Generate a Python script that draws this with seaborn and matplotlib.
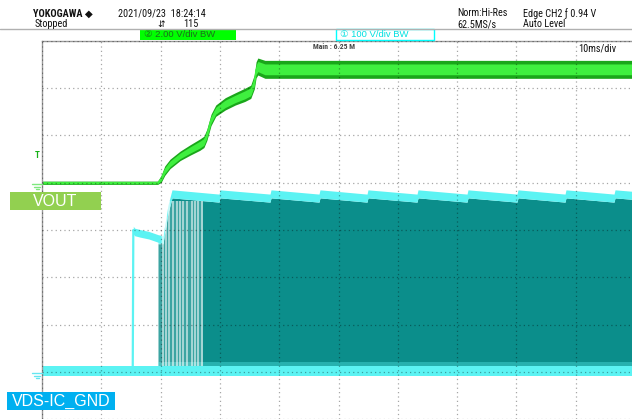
import numpy as np
import pandas as pd
import matplotlib
matplotlib.use("Agg")
import matplotlib.pyplot as plt
from matplotlib.lines import Line2D
from matplotlib.patches import Rectangle
import seaborn as sns

# ---------------- data (time in ms, volts) ----------------
green_t = [0, 19.5, 20.1, 20.7, 21.6, 23.3, 25.0, 26.6, 27.3, 27.8, 28.5, 29.3,
           30.9, 32.6, 34.2, 35.2, 35.8, 36.1, 36.4, 37.6, 99.5]
green_v = [0.0, 0.0, 0.17, 0.51, 0.80, 1.14, 1.39, 1.61, 1.73, 2.03, 2.66, 3.05,
           3.34, 3.55, 3.72, 3.85, 4.27, 4.78, 4.92, 4.80, 4.80]
green_spread = [0.07, 0.07, 0.15, 0.2, 0.2, 0.2, 0.22, 0.24, 0.24, 0.24, 0.24, 0.24,
                0.26, 0.26, 0.28, 0.28, 0.3, 0.34, 0.36, 0.38, 0.38]

cyan_pre_t = [0, 15.3, 15.4, 15.6, 16.5, 18.0, 19.6, 20.0]
cyan_pre_v = [0, 0, 300, 296, 293, 289, 282, 281]

sw_t = [19.56, 20.40, 21.25, 21.92, 29.85, 30.02, 38.45, 38.62, 46.71, 46.88,
        54.81, 54.97, 63.24, 63.41, 71.67, 71.84, 80.10, 80.27, 88.20, 88.36,
        96.46, 96.63, 99.49]
sw_top = [288, 288, 353, 385, 376, 385, 376, 385, 376, 385,
          376, 385, 376, 385, 376, 385, 376, 385, 376, 385,
          376, 385, 382]
stripe_t = [20.4, 20.9, 21.4, 22.1, 22.8, 23.3, 23.8, 24.5, 25.3, 25.8, 26.3, 27.0]

# channel scales (V/div) and ground offsets (div)
CH2_SCALE, CH2_POS = 2.0, 1.0
CH1_SCALE, CH1_POS = 100.0, -3.0

def g_div(v):
    return np.asarray(v, float) / CH2_SCALE + CH2_POS

def c_div(v):
    return np.asarray(v, float) / CH1_SCALE + CH1_POS

W, H = 632, 419
sns.set_theme(style="white")
HDR = ['Roboto Condensed', 'Liberation Sans', 'DejaVu Sans']
plt.rcParams['font.family'] = HDR
fig = plt.figure(figsize=(W / 100, H / 100), dpi=100)
fig.patch.set_facecolor("white")

def fx(x):
    return x / W

def fy(y):
    return 1 - y / H

ax = fig.add_axes([fx(42), 0, 590 / W, 378 / H])
ax.set_xlim(0, 99.49)
ax.set_ylim(-4, 4)
ax.set_facecolor("white")

GREEN_B = "#3fef3f"
GREEN_D = "#1aa61a"
CYAN_L = "#5cf3f3"
TEAL = "#0b8e8b"

# ---- CH1 (cyan) ----
t_all = [0, 99.49]
ax.fill_between(t_all, c_div(-9), c_div(12), color=CYAN_L, lw=0, zorder=1.2)
st = np.asarray(sw_t)
top = np.asarray(sw_top, float)
ax.fill_between(st, c_div(12), c_div(top - 17), color=TEAL, lw=0, zorder=1.1)
ax.fill_between(st, c_div(top - 17), c_div(top), color=CYAN_L, lw=0, zorder=1.15)
ax.fill_between(st, c_div(12), c_div(20), color=CYAN_L, alpha=0.35, lw=0, zorder=1.15)
ax.fill_between([19.6, 27.2], c_div(12), c_div(362), color="white", alpha=0.2, lw=0, zorder=1.16)
ax.vlines(stripe_t, c_div(12), c_div(362), color="white", alpha=0.7, lw=1.1, zorder=1.17)
pre = pd.DataFrame({"t": cyan_pre_t, "d": c_div(cyan_pre_v)})
ax.fill_between(pre["t"][2:], pre["d"][2:] - 0.08, pre["d"][2:] + 0.08, color=CYAN_L, lw=0, zorder=1.2)
sns.lineplot(data=pre, x="t", y="d", ax=ax, color=CYAN_L, lw=1.6, zorder=1.3,
             estimator=None, sort=False, legend=False)

# ---- CH2 (green) ----
gt = np.asarray(green_t)
gv = np.asarray(green_v)
gs = np.asarray(green_spread)
ax.fill_between(gt, g_div(gv - gs), g_div(gv + gs), color=GREEN_D, lw=0, zorder=1.5)
ax.fill_between(gt, g_div(gv - gs * 0.6), g_div(gv + gs * 0.6), color=GREEN_B, lw=0, zorder=1.6)
gdf = pd.DataFrame({"t": gt, "d": g_div(gv)})
sns.lineplot(data=gdf, x="t", y="d", ax=ax, color=GREEN_B, lw=1.0, zorder=1.7,
             estimator=None, legend=False)

# ---- grid / frame ----
ax.set_xticks(np.arange(0, 100, 10))
ax.set_yticks(np.arange(-4, 5, 1))
ax.set_axisbelow(False)
ax.grid(True, color="black", alpha=0.35, linestyle=(0, (1, 2.5)), lw=0.9)
ax.tick_params(length=0, labelbottom=False, labelleft=False)
ax.set_xlabel("")
ax.set_ylabel("")
for s in ["right", "bottom"]:
    ax.spines[s].set_visible(False)
for s in ["left", "top"]:
    ax.spines[s].set_color("#9a9a9a")
    ax.spines[s].set_linewidth(1.0)

# ---- header ----
FS = 7.4
fig.add_artist(Line2D([0, 1], [fy(29), fy(29)], color="#b0b0b0", lw=1))
fig.text(fx(33), fy(13.5), "YOKOGAWA \u25c6", fontsize=FS, fontweight="bold", color="#111",
         va="center", ha="left", family=HDR + ['DejaVu Sans'])
fig.text(fx(35), fy(24), "Stopped", fontsize=FS, color="#111", va="center")
fig.text(fx(118), fy(13.5), "2021/09/23  18:24:14", fontsize=FS, color="#111", va="center")
fig.text(fx(157), fy(24), "\u21f5", fontsize=6.5, color="#111", va="center",
         family=['DejaVu Sans'])
fig.text(fx(183), fy(24), "115", fontsize=FS, color="#111", va="center")
fig.text(fx(457), fy(13.5), "Norm:Hi-Res", fontsize=FS, color="#111", va="center")
fig.text(fx(457), fy(24), "62.5MS/s", fontsize=FS, color="#111", va="center")
fig.text(fx(523), fy(13.5), "Edge CH2 \u0192 0.94 V", fontsize=FS, color="#111", va="center")
fig.text(fx(523), fy(24), "Auto Level", fontsize=FS, color="#111", va="center")

fig.add_artist(Rectangle((fx(140), fy(40)), (236 - 140) / W, 11 / H, facecolor="#00ff00",
                         edgecolor="none"))
fig.text(fx(144), fy(34.5), "\u2461 2.00 V/div BW", fontsize=6.8, color="#1d6e1d", va="center",
         family=['Liberation Sans', 'DejaVu Sans'])
fig.add_artist(Rectangle((fx(336), fy(40)), (434 - 336) / W, 10.5 / H, facecolor="white",
                         edgecolor="#00ffff", lw=1))
fig.text(fx(340), fy(34.5), "\u2460 100 V/div BW", fontsize=6.8, color="#00e0e0", va="center",
         family=['Liberation Sans', 'DejaVu Sans'])

fig.text(fx(313), fy(46.5), "Main : 6.25 M", fontsize=5.5, fontweight="bold", color="#444",
         va="center")
fig.text(fx(578), fy(48), "10ms/div", fontsize=FS, color="#111", va="center")

# trigger + ground markers
fig.text(fx(35), fy(156), "T", fontsize=6.5, fontweight="bold", color="#18b018", va="center")
for (yy, col) in [(184, "#7ee87e"), (373, "#66e6f0")]:
    fig.add_artist(Line2D([fx(32), fx(42)], [fy(yy), fy(yy)], color=col, lw=1))
    fig.add_artist(Line2D([fx(34), fx(40)], [fy(yy + 2.5), fy(yy + 2.5)], color=col, lw=1))
    fig.add_artist(Line2D([fx(35.5), fx(38.5)], [fy(yy + 5), fy(yy + 5)], color=col, lw=1))

# channel labels
fig.add_artist(Rectangle((fx(10), fy(210)), 91 / W, 18 / H, facecolor="#92d050",
                         edgecolor="none"))
fig.text(fx(55.5), fy(201), "VOUT", fontsize=11.5, color="white", va="center", ha="center",
         family=["Liberation Sans", "DejaVu Sans"])
fig.add_artist(Rectangle((fx(7), fy(410)), 108 / W, 18 / H, facecolor="#00b0f0",
                         edgecolor="none"))
fig.text(fx(61), fy(401), "VDS-IC_GND", fontsize=11.5, color="white", va="center",
         ha="center", family=["Liberation Sans", "DejaVu Sans"])

fig.savefig("out.png", dpi=100, facecolor="white")
